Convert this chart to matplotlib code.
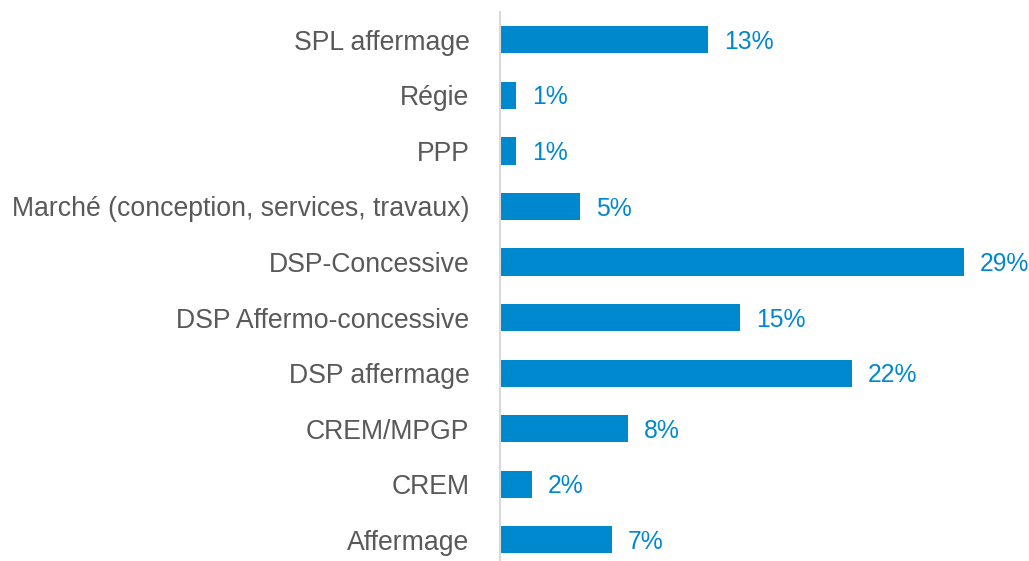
import matplotlib.pyplot as plt

plt.rcParams['font.family'] = ['Liberation Sans', 'DejaVu Sans']

# contract types, bottom to top
categories = ['Affermage', 'CREM', 'CREM/MPGP', 'DSP affermage',
              'DSP Affermo-concessive', 'DSP-Concessive',
              'Marché (conception, services, travaux)', 'PPP', 'Régie',
              'SPL affermage']
shares = [7, 2, 8, 22, 15, 29, 5, 1, 1, 13]

bar_color = '#0088CE'
text_color = '#595959'

fig = plt.figure(figsize=(10.29, 5.61), dpi=100)
ax = fig.add_axes([500 / 1029, 0, 1 - 500 / 1029, 1 - 12 / 561])

pos = range(len(categories))
ax.barh(pos, shares, height=0.49, color=bar_color)

for y, v in zip(pos, shares):
    ax.annotate(f'{v}%', (v, y), xytext=(11.5, -1.5), textcoords='offset points',
                va='center', ha='left', fontsize=17.8, color=bar_color)

ax.set_xlim(0, 33.06)
ax.set_ylim(-0.38, 9.5)

ax.set_yticks(list(pos))
ax.set_yticklabels(categories, fontsize=19.2, color=text_color)
ax.tick_params(axis='y', length=0, pad=22)
ax.set_xticks([])

for side in ['top', 'right', 'bottom']:
    ax.spines[side].set_visible(False)
ax.spines['left'].set_color('#D9D9D9')
ax.spines['left'].set_linewidth(1.5)

fig.savefig('out.png', dpi=100)
